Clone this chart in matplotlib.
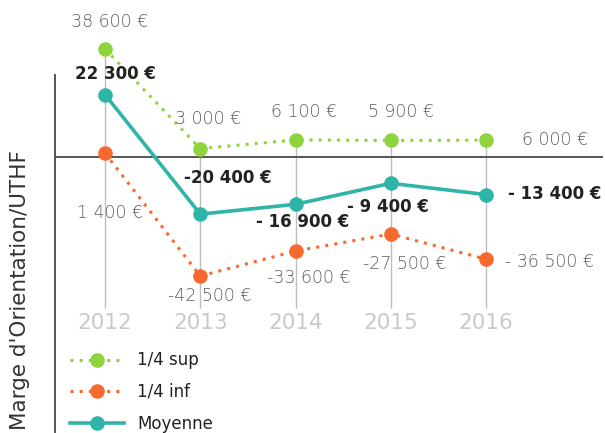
import matplotlib
matplotlib.use("Agg")
import matplotlib.pyplot as plt

years = [2012, 2013, 2014, 2015, 2016]
year_labels = ["2012", "2013", "2014", "2015", "2016"]
sup_values = [38600, 3000, 6100, 5900, 6000]
inf_values = [1400, -42500, -33600, -27500, -36500]
mean_values = [22300, -20400, -16900, -9400, -13400]
sup_labels = ["38 600 €", "3 000 €", "6 100 €", "5 900 €", "6 000 €"]
inf_labels = ["1 400 €", "-42 500 €", "-33 600 €", "-27 500 €", "- 36 500 €"]
mean_labels = ["22 300 €", "-20 400 €", "- 16 900 €", "- 9 400 €", "- 13 400 €"]
series_names = ["1/4 sup", "1/4 inf", "Moyenne"]
ylabel = "Marge d'Orientation/UTHF"

GREEN = "#8fd43f"
ORANGE = "#f7692f"
TEAL = "#2fb5a8"
GRAYTXT = "#5e5e5e"
DARK = "#222222"
YEARC = "#c9c9c9"

plt.rcParams['font.family'] = ['DejaVu Sans']

W, H = 605, 433
fig = plt.figure(figsize=(W / 100, H / 100), dpi=100)
ax = fig.add_axes([0, 0, 1, 1])
ax.set_axis_off()

# pixel mapping: 2012 -> x=105, 95.25 px per year; zero at y=157, 2.8 px per 1000
pxy = 95.25
x0 = 2012 - 105 / pxy
ax.set_xlim(x0, x0 + W / pxy)
pyv = 2.8 / 1000
ytop = 157 / pyv
ax.set_ylim(ytop - H / pyv, ytop)

# vertical grid lines from top value down
grid_bottom = ytop - 308 / pyv
ax.vlines(years, grid_bottom, sup_values, color="#bdbdbd", lw=1.0, zorder=1)

# axes lines
axis_x = x0 + 55 / pxy
ax.plot([axis_x, axis_x], [ytop - 432 / pyv, ytop - 75 / pyv], color="#555555", lw=1.4, zorder=2)
ax.plot([axis_x, x0 + 602 / pxy], [0, 0], color="#555555", lw=1.4, zorder=2)

ms = 9.5
l_sup, = ax.plot(years, sup_values, color=GREEN, ls=(0, (1, 2)), lw=2.2, marker="o",
                 ms=ms, mec=GREEN, mfc=GREEN, zorder=4, label=series_names[0])
l_inf, = ax.plot(years, inf_values, color=ORANGE, ls=(0, (1, 2)), lw=2.2, marker="o",
                 ms=ms, mec=ORANGE, mfc=ORANGE, zorder=4, label=series_names[1])
l_mean, = ax.plot(years, mean_values, color=TEAL, ls="-", lw=2.6, marker="o",
                  ms=ms, mec=TEAL, mfc=TEAL, zorder=5, label=series_names[2])

# label offsets in pixels (dx, dy up), alignment
sup_off = [(5, 27, "center"), (8, 30, "center"), (8, 28, "center"), (10, 28, "center"), (36, 0, "left")]
mean_off = [(10, 21, "center"), (28, 36, "center"), (7, -18, "center"), (-3, -24, "center"), (22, 1, "left")]
inf_off = [(5, -60, "center"), (9, -20, "center"), (13, -27, "center"), (14, -30, "center"), (19, -3, "left")]

fs = 12.5
for x, v, t, (dx, dy, ha) in zip(years, sup_values, sup_labels, sup_off):
    ax.annotate(t, (x, v), xytext=(dx, dy), textcoords="offset pixels", ha=ha, va="center",
                fontsize=fs, color=GRAYTXT, fontweight="light", zorder=6)
for x, v, t, (dx, dy, ha) in zip(years, inf_values, inf_labels, inf_off):
    ax.annotate(t, (x, v), xytext=(dx, dy), textcoords="offset pixels", ha=ha, va="center",
                fontsize=fs, color=GRAYTXT, fontweight="light", zorder=6)
for x, v, t, (dx, dy, ha) in zip(years, mean_values, mean_labels, mean_off):
    ax.annotate(t, (x, v), xytext=(dx, dy), textcoords="offset pixels", ha=ha, va="center",
                fontsize=12, color=DARK, fontweight="bold", zorder=6)

# year labels
year_y = ytop - 323 / pyv
for x, t in zip(years, year_labels):
    ax.text(x, year_y, t, ha="center", va="center", fontsize=15.5, color=YEARC)

# y label
fig.text(20 / W, 1 - 290 / H, ylabel, rotation=90, ha="center", va="center",
         fontsize=15.5, color="#333333")

leg = ax.legend(handles=[l_sup, l_inf, l_mean], loc="upper left",
                bbox_to_anchor=(62 / W, 1 - 343 / H), frameon=False, fontsize=12,
                handlelength=3.2, handletextpad=0.8, labelspacing=0.82, borderpad=0,
                numpoints=1, labelcolor=DARK)

fig.savefig("out.png", dpi=100)
